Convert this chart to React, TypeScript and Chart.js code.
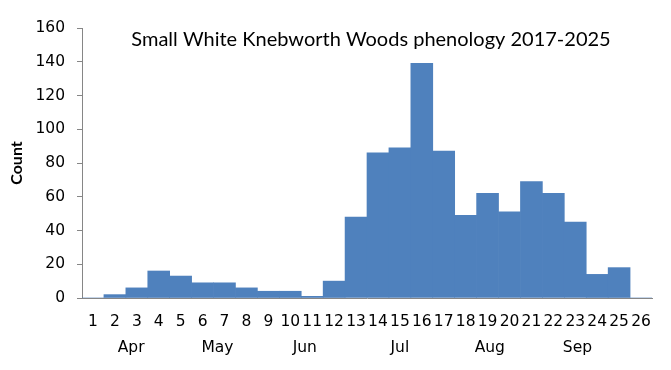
import React, { useEffect, useRef } from "react";
import { Chart, registerables } from "chart.js";

Chart.register(...registerables);

const weeks: string[] = Array.from({ length: 26 }, (_, i) => String(i + 1));
const counts: number[] = [0, 2, 6, 16, 13, 9, 9, 6, 4, 4, 1, 10, 48, 86, 89, 139, 87, 49, 62, 51, 69, 62, 45, 14, 18, 0];
const monthNames: string[] = ["Apr", "May", "Jun", "Jul", "Aug", "Sep"];
const monthCentres: number[] = [1.74, 5.68, 9.66, 14.0, 18.1, 22.1];
const yTicks = { min: 0, max: 160, step: 20 };
const chartTitle = "Small White Knebworth Woods phenology 2017-2025";
const yTitle = "Count";

const tickFont = { family: "'DejaVu Sans', sans-serif", size: 15.5 };

const overlayPlugin = {
  id: "overlay",
  afterDraw(chart: any) {
    const { ctx, chartArea, scales } = chart;
    ctx.save();
    ctx.fillStyle = "#000";
    ctx.textAlign = "center";
    ctx.textBaseline = "alphabetic";
    ctx.font = `${tickFont.size}px ${tickFont.family}`;
    monthNames.forEach((m, i) => {
      const x = scales.x.getPixelForValue(monthCentres[i]);
      ctx.fillText(m, x, 352);
    });
    ctx.font = "20px Lato, 'Open Sans', sans-serif";
    ctx.fillText(chartTitle, (chartArea.left + chartArea.right) / 2 + 4, 46);
    ctx.restore();
  },
};

export default function App() {
  const ref = useRef<HTMLCanvasElement | null>(null);
  useEffect(() => {
    if (!ref.current) return;
    const chart = new Chart(ref.current, {
      type: "bar",
      data: {
        labels: weeks,
        datasets: [
          {
            data: counts,
            backgroundColor: "#4f81bd",
            borderWidth: 0,
            categoryPercentage: 1,
            barPercentage: 1,
          },
        ],
      },
      options: {
        animation: false,
        responsive: false,
        maintainAspectRatio: false,
        layout: { padding: { top: 28, right: 19, left: 0, bottom: 0 } },
        plugins: { legend: { display: false }, tooltip: { enabled: false }, title: { display: false } },
        scales: {
          x: {
            grid: { display: false, drawTicks: false },
            border: { display: true, color: "#868686", width: 1 },
            ticks: { color: "#000", font: tickFont, padding: 15, maxRotation: 0, autoSkip: false },
            afterFit(scale: any) {
              scale.height = 72;
            },
          },
          y: {
            min: yTicks.min,
            max: yTicks.max,
            ticks: { stepSize: yTicks.step, color: "#000", font: tickFont, padding: 12 },
            grid: { drawOnChartArea: false, drawTicks: true, tickLength: 5, color: "#868686" },
            border: { display: true, color: "#868686", width: 1 },
            title: {
              display: true,
              text: yTitle,
              color: "#000",
              font: { family: "Lato, 'Open Sans', sans-serif", size: 16, weight: "bold" },
              padding: { top: 7, bottom: 0 },
            },
            afterFit(scale: any) {
              scale.width = 82;
            },
          },
        },
      },
      plugins: [overlayPlugin],
    });
    return () => chart.destroy();
  }, []);
  return (
    <div style={{ position: "fixed", left: 0, top: 0, width: 671, height: 370, background: "#fff" }}>
      <canvas ref={ref} width={671} height={370} style={{ width: 671, height: 370 }} />
    </div>
  );
}
